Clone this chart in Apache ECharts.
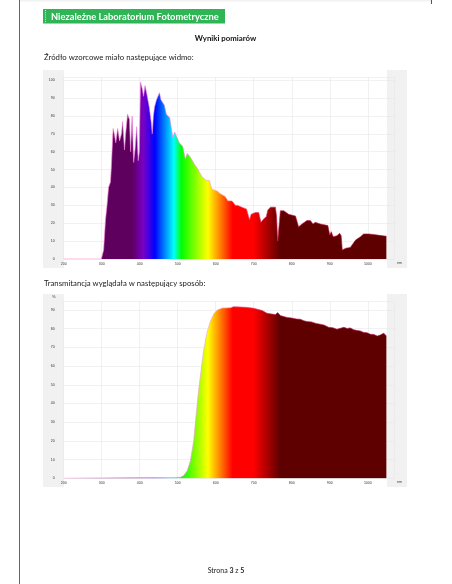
<!DOCTYPE html>
<html><head><meta charset="utf-8">
<style>html,body{margin:0;padding:0;background:#fff}#c{width:452px;height:584px;filter:blur(0.35px)}</style>
<script src="https://cdn.jsdelivr.net/npm/echarts@6/dist/echarts.min.js"></script>
</head><body><div id="c"></div>
<script>
const headerText = 'Niezależne Laboratorium Fotometryczne';
const titleText = 'Wyniki pomiarów';
const caption1 = 'Źródło wzorcowe miało następujące widmo:';
const caption2 = 'Transmitancja wyglądała w następujący sposób:';
const yTicks1Max = 101.8, yTicks2Max = 94.4;

const sourceNm = [200,299,300,305,310,314,318,323,325,330,333,337,342,347,352,355,360,363,368,373,376,380,384,388,392,396,399,402,407,410,414,419,425,430,433,436,439,444,447,452,456,460,465,470,479,487,492,498,504,513,520,525,533,544,551,564,575,583,590,604,611,625,632,643,652,658,669,681,689,693,704,713,719,726,733,737,744,757,760,763,766,770,779,792,810,818,827,840,849,856,862,875,895,900,904,909,919,926,930,933,938,942,954,968,981,989,1003,1025,1049];
const sourceVal = [0,0,0.5,5,22,30,40,43,50,73,70,65,73,66,70,77,61,70,81,78,60,80,54,62,74,55,60,99,95,91,97,92,85,77,70,80,85,89,90,93,89,88,86,81,79,68,71,68,65,63,56,59,57,53,51,46,44,44,39,38,36.7,35,32.6,32.5,30,30,29,28,22,25,26,26,20.5,22.4,23.7,27.4,29,29,24,10,10.5,27,27,25,24,18,19.6,21.5,21.5,19.6,20.5,19.6,18.7,13.4,15.3,12.5,13,14.4,13,5,4.3,6,6.5,10.6,12.5,14,14,13.4,12.7];

const transNm = [200,300,400,480,507,516,525,533,542,549,555,561,568,577,586,595,604,617,639,647,682,700,722,735,757,763,770,788,800,812,823,832,840,852,864,875,885,897,908,919,928,937,946,954,963,972,980,989,998,1007,1016,1025,1033,1042,1049];
const transVal = [0,0.2,0.3,0.3,0.5,1.5,4,9,20,35,47,57,68,78,84,88,90,91,91.2,91.8,91.4,90.9,89.7,88.2,87.5,88.6,87,86,85.7,85.2,85,84.2,83.8,83.6,82.8,82.4,81.9,80.7,80.5,79.7,80.2,80.7,80.1,80.4,79.4,79,78.8,78,77.8,77,76.9,76,76.6,77.6,76];

const stopNm = [200,380,410,440,490,510,580,645,700,770,1050];
const stopColor = ['#5e005e','#5e005e','#7a00c8','#0000ff','#00ffff','#00ff00','#ffff00','#ff0000','#ff0000','#5e0000','#5e0000'];
const xTicksMin = 200, xTicksMax = 1069, xSpan = 850;

const stops = stopNm.map((n,i)=>({offset:(n-xTicksMin)/xSpan,color:stopColor[i]}));
const fill = () => new echarts.graphic.LinearGradient(0,0,1,0,stops);
const edge = () => new echarts.graphic.LinearGradient(0,0,1,0,[
  {offset:0,color:'#ff80d0'},{offset:.35,color:'#f080e0'},{offset:.5,color:'#f8b0c8'},{offset:.62,color:'#e02060'},{offset:1,color:'#b00040'}]);
const zip = (a,b)=>a.map((x,i)=>[x,b[i]]);

const chart = echarts.init(document.getElementById('c'),null,{renderer:'canvas'});
const grids = [
  {left:63.7,right:58,top:77,bottom:325},
  {left:63.7,right:58,top:301.7,bottom:105.7}
];
const gridLine = {show:true,lineStyle:{color:'#e8e8e8',width:.6,type:'solid'}};
const axisLabel = {fontSize:3.5,color:'#333',fontFamily:'Liberation Sans',margin:3};
const xAxis = i => ({gridIndex:i,type:'value',min:xTicksMin,max:xTicksMax,interval:100,name:'nm',nameLocation:'end',nameGap:3,
  nameTextStyle:{fontSize:3.5,color:'#333',verticalAlign:'top',padding:[2,0,0,0]},
  axisLine:{show:true,lineStyle:{color:'#e8e8e8',width:.6}},axisTick:{show:false},
  axisLabel:{...axisLabel,showMaxLabel:false,formatter:v=>String(v)},splitLine:gridLine});
const yAxis = (i,max,name) => ({gridIndex:i,type:'value',min:0,max,interval:10,name,nameGap:3,
  nameTextStyle:{fontSize:4,color:'#333',padding:[0,20,0,0]},
  axisLine:{show:false},axisTick:{show:false},
  axisLabel:{...axisLabel,margin:9,align:'right',showMaxLabel:false},splitLine:gridLine});
const series = (i,d) => ({type:'line',xAxisIndex:i,yAxisIndex:i,data:d,showSymbol:false,symbol:'none',animation:false,
  lineStyle:{width:.6,color:edge()},areaStyle:{color:fill(),opacity:1}});
const rect=(x,y,w,h,fill)=>({type:'rect',silent:true,z:-10,shape:{x,y,width:w,height:h},style:{fill}});
const txt=(x,y,text,font,fill,align)=>({type:'text',silent:true,z:10,x,y,style:{text,font,fill,align:align||'left',verticalAlign:'middle'}});
chart.setOption({
  animation:false,
  grid:grids,
  xAxis:[xAxis(0),xAxis(1)],
  yAxis:[yAxis(0,yTicks1Max,''),yAxis(1,yTicks2Max,'%')],
  series:[series(0,zip(sourceNm,sourceVal)),series(1,zip(transNm,transVal))],
  graphic:[
    rect(19,0,1,584,'#666'),
    rect(431,0,1,4,'#555'),
    rect(20,0,411,1.5,'#f2f2f2'),
    rect(43,9,182,14.5,'#2fb456'),
    {type:'line',silent:true,z:5,shape:{x1:45.5,y1:10,x2:45.5,y2:23},style:{stroke:'#fff',lineWidth:.8,lineDash:[1,1.2]}},
    rect(43,70,21,198,'#f1f1f1'),
    rect(387,70,20,198,'#f1f1f1'),
    rect(43,294,21,193,'#f1f1f1'),
    rect(387,294,20,193,'#f1f1f1'),
    txt(51,16.5,headerText,'bold 9.3px Lato','#fff'),
    txt(225.5,38,titleText,'bold 7.8px Lato','#111','center'),
    txt(44,57,caption1,'7.75px Lato','#222'),
    txt(44,283,caption2,'7.75px Lato','#222'),
    {type:'text',silent:true,z:10,x:226,y:570.5,style:{text:'Strona {b|3} z {b|5}',font:'7px Lato',fill:'#222',align:'center',verticalAlign:'middle',rich:{b:{font:'bold 7px Lato',fill:'#222'}}}}
  ]
});
</script></body></html>
